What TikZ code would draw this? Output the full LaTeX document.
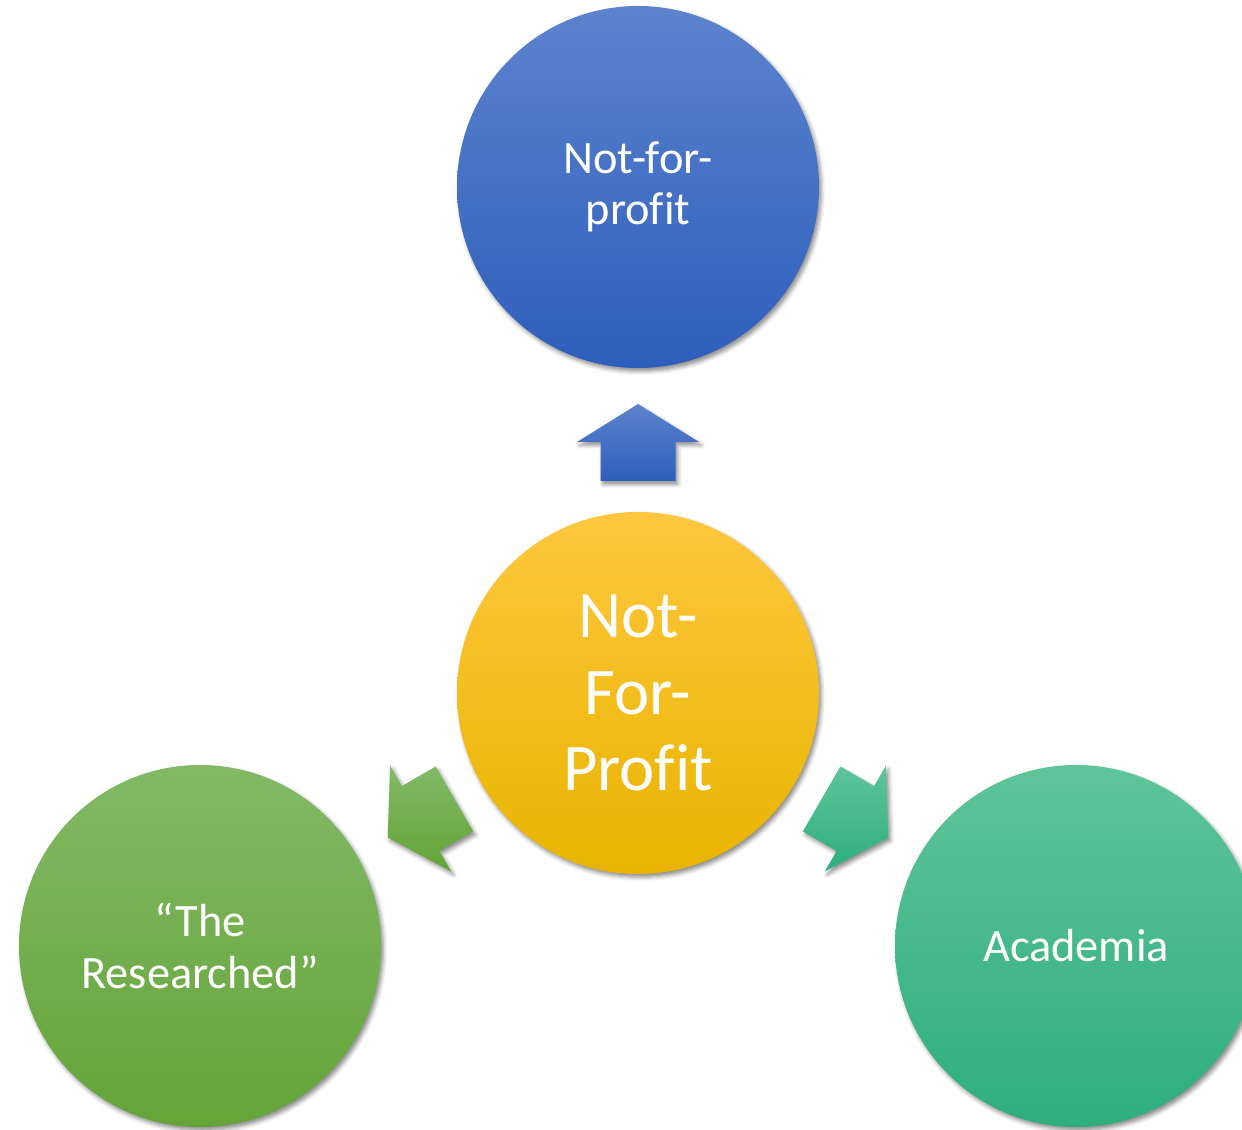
\documentclass[tikz,border=0pt]{standalone}
\usepackage{fontspec}
\setmainfont{Carlito}[Ligatures=NoCommon]
\usetikzlibrary{shadows.blur}
\definecolor{bluetop}{RGB}{92,131,205}
\definecolor{bluebot}{RGB}{46,94,188}
\definecolor{yeltop}{RGB}{255,199,62}
\definecolor{yelmid}{RGB}{255,192,0}
\definecolor{yelbot}{RGB}{232,180,0}
\definecolor{grntop}{RGB}{131,185,102}
\definecolor{grnmid}{RGB}{112,173,71}
\definecolor{grnbot}{RGB}{100,164,56}
\definecolor{tealtop}{RGB}{95,196,154}
\definecolor{tealmid}{RGB}{62,190,140}
\definecolor{tealbot}{RGB}{46,174,126}
\tikzset{
  shad/.style={blur shadow={shadow xshift=1.8pt, shadow yshift=-2.5pt, shadow blur radius=3pt, shadow opacity=45}},
  bubble/.style={circle, minimum size=271.5pt, inner sep=0pt, text=white, align=center, shad,
    font=\fontsize{34.8}{38.5}\selectfont},
  bluefill/.style={top color=bluetop, bottom color=bluebot},
  yelfill/.style={top color=yeltop, middle color=yelmid, bottom color=yelbot},
  grnfill/.style={top color=grntop, middle color=grnmid, bottom color=grnbot},
  tealfill/.style={top color=tealtop, middle color=tealmid, bottom color=tealbot},
  fatarrow/.style={shad}
}
\begin{document}
\begin{tikzpicture}[x=0.75pt, y=0.75pt]
\useasboundingbox (0,0) rectangle (1242,1129);
\clip (0,0) rectangle (1242,1129);
% circles
\node[bubble, bluefill] (top) at (638,942) {Not-for-\\profit};
\node[bubble, grnfill] (left) at (200,183) {\char"201CThe\\Researched\char"201D};
\node[bubble, tealfill] (right) at (1076,183) {Academia};
\node[bubble, yelfill, font=\fontsize{50}{57.5}\selectfont] (ctr) at (638,436) {Not-\\For-\\Profit};
% block arrows radiating from the centre node
\foreach \ang/\sty in {90/bluefill, 210/grnfill, 330/tealfill}{
  \begin{scope}[shift={(ctr.center)}, rotate=\ang]
    \path[fatarrow, \sty] (212,-37.5) -- (251,-37.5) -- (251,-61) -- (289,0)
      -- (251,61) -- (251,37.5) -- (212,37.5) -- cycle;
  \end{scope}
}
\end{tikzpicture}
\end{document}
